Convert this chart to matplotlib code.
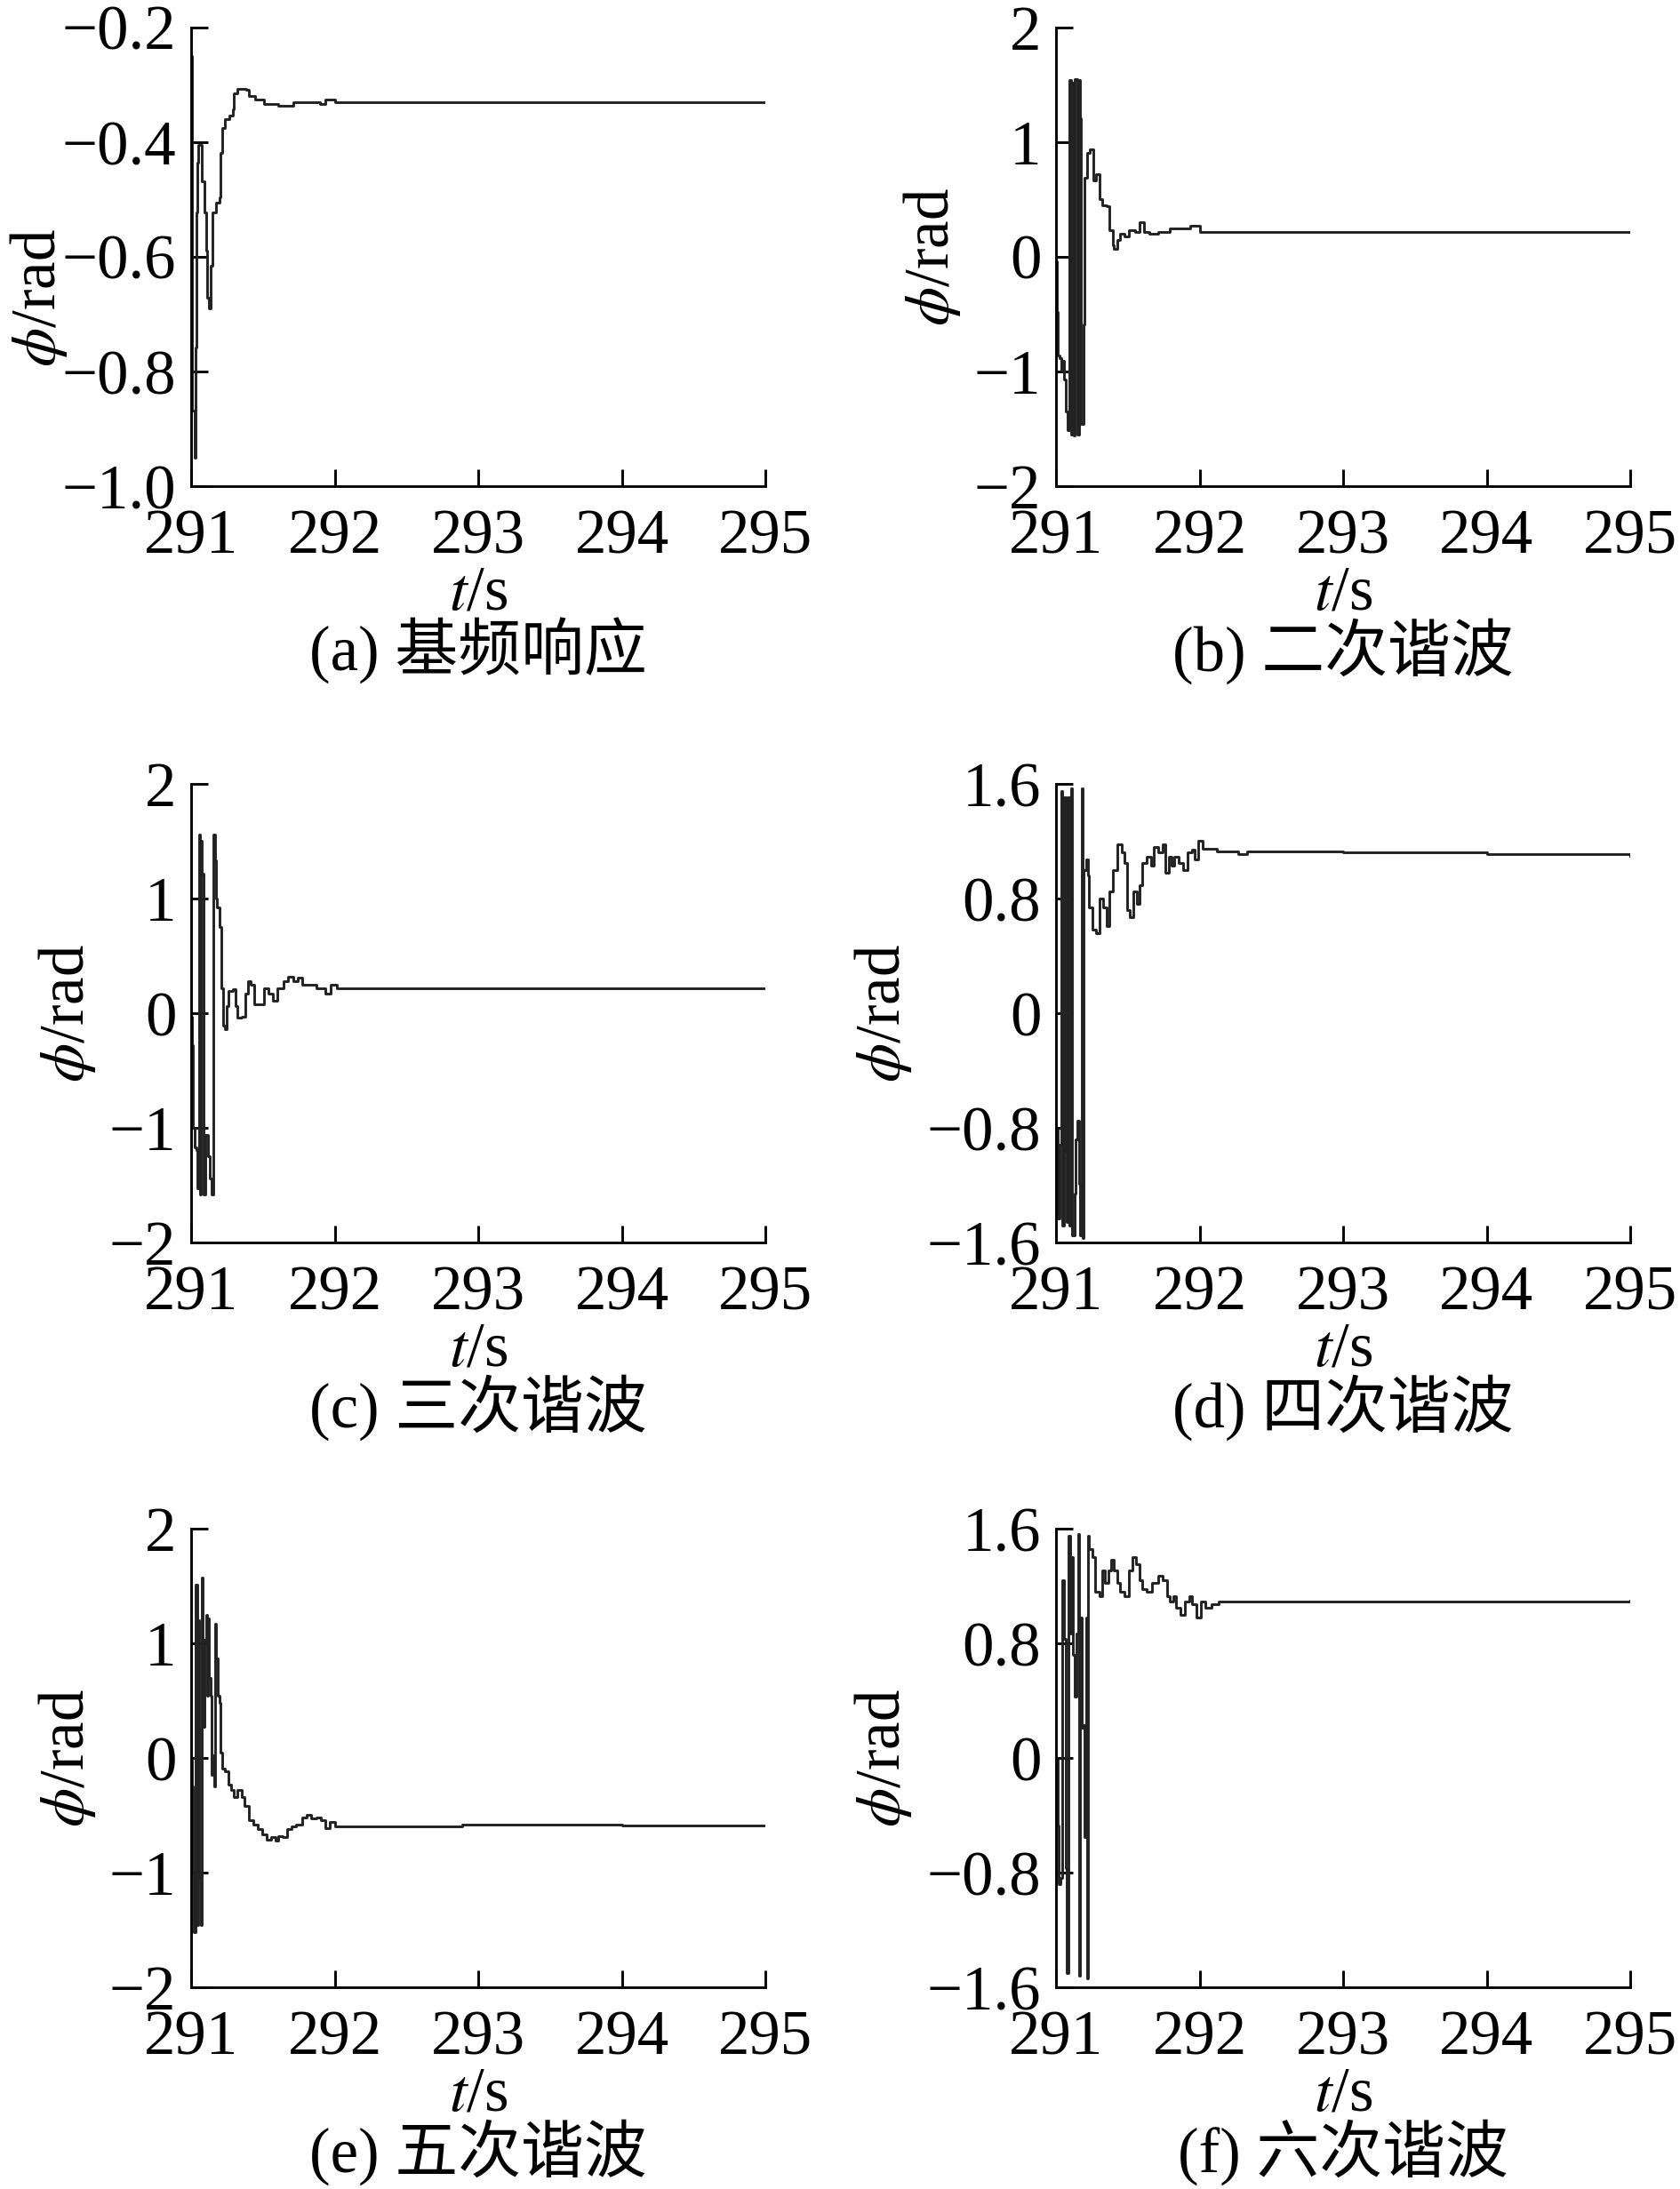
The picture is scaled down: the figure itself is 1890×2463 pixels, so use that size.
import matplotlib
matplotlib.use("Agg")
import matplotlib.pyplot as plt

plt.rcParams['font.family'] = ['Liberation Serif', 'Noto Sans CJK SC']
plt.rcParams['mathtext.fontset'] = 'stix'
plt.rcParams['axes.unicode_minus'] = True

# ---- data (t in s, phi in rad) ----
t_a = [291.000, 291.004, 291.027, 291.031, 291.035, 291.041, 291.047, 291.062, 291.072, 291.093,
       291.103, 291.109, 291.124, 291.134, 291.151, 291.175, 291.196, 291.206, 291.216, 291.237,
       291.268, 291.289, 291.299, 291.320, 291.381, 291.402, 291.443, 291.505, 291.608, 291.711,
       291.814, 291.897, 291.938, 292.0, 295.0]
phi_a = [-0.249, -0.868, -0.950, -0.758, -0.523, -0.435, -0.405, -0.405, -0.468, -0.523,
         -0.589, -0.671, -0.690, -0.616, -0.523, -0.506, -0.496, -0.419, -0.375, -0.359,
         -0.353, -0.342, -0.315, -0.307, -0.309, -0.320, -0.326, -0.334, -0.337, -0.331,
         -0.331, -0.334, -0.326, -0.331, -0.331]

t_b = [291.000, 291.006, 291.014, 291.025, 291.035, 291.045, 291.055, 291.070, 291.082, 291.092,
       291.103, 291.113, 291.123, 291.133, 291.146, 291.158, 291.168, 291.175, 291.189, 291.199,
       291.216, 291.236, 291.261, 291.281, 291.306, 291.322, 291.353, 291.374, 291.394, 291.405,
       291.425, 291.446, 291.476, 291.507, 291.548, 291.579, 291.610, 291.651, 291.713, 291.795,
       291.897, 291.938, 292.000, 295.0]
phi_b = [-0.04, -0.48, -0.86, -0.88, -0.99, -0.91, -1.07, -1.35, -1.51, 1.54,
         -1.55, 1.52, -1.56, 1.55, -1.55, 1.54, 1.21, -1.46, -0.59, 0.69,
         0.91, 0.94, 0.67, 0.72, 0.50, 0.45, 0.44, 0.23, 0.10, 0.07,
         0.15, 0.20, 0.18, 0.23, 0.22, 0.30, 0.22, 0.20, 0.22, 0.245,
         0.245, 0.27, 0.22, 0.22]

t_c = [291.000, 291.006, 291.014, 291.025, 291.035, 291.045, 291.056, 291.062, 291.070, 291.076,
       291.087, 291.097, 291.107, 291.118, 291.128, 291.144, 291.155, 291.165, 291.171, 291.181,
       291.200, 291.210, 291.221, 291.235, 291.245, 291.262, 291.293, 291.307, 291.324, 291.355,
       291.375, 291.396, 291.416, 291.437, 291.478, 291.509, 291.540, 291.571, 291.602, 291.643,
       291.674, 291.715, 291.746, 291.777, 291.829, 291.870, 291.932, 291.973, 292.014, 295.0]
phi_c = [-0.03, -0.28, -1.00, -1.17, -1.19, -1.53, 1.56, -1.58, 1.50, 1.22,
         -1.58, -1.06, -1.06, -1.25, -1.44, -1.58, 1.56, 1.33, 1.00, 0.92,
         0.75, 0.22, -0.11, -0.14, 0.06, 0.19, 0.21, 0.06, -0.04, -0.03,
         0.17, 0.28, 0.25, 0.08, 0.08, 0.22, 0.17, 0.11, 0.22, 0.28,
         0.32, 0.28, 0.31, 0.25, 0.25, 0.22, 0.17, 0.25, 0.22, 0.22]

t_d = [291.004, 291.014, 291.025, 291.035, 291.045, 291.055, 291.066, 291.072, 291.080, 291.090,
       291.099, 291.107, 291.113, 291.127, 291.138, 291.148, 291.158, 291.168, 291.179, 291.187,
       291.195, 291.209, 291.224, 291.232, 291.251, 291.281, 291.302, 291.326, 291.353, 291.374,
       291.394, 291.425, 291.456, 291.476, 291.497, 291.517, 291.538, 291.565, 291.579, 291.600,
       291.630, 291.661, 291.682, 291.713, 291.743, 291.764, 291.784, 291.805, 291.825, 291.856,
       291.887, 291.918, 291.949, 291.969, 291.990, 292.021, 292.123, 292.267, 292.329, 293.0,
       294.0, 295.0]
phi_d = [-0.81, -1.43, -0.92, 1.55, -1.48, 1.51, -0.97, -1.46, 1.51, -1.48,
         -1.15, 1.57, -1.55, -1.26, -0.88, -0.75, -1.19, -1.55, 1.57, -1.57,
         1.00, 1.07, 0.96, 0.74, 0.58, 0.56, 0.80, 0.74, 0.61, 0.85,
         1.00, 1.18, 1.12, 1.05, 0.72, 0.67, 0.85, 0.76, 0.89, 1.05,
         1.09, 1.03, 1.16, 1.12, 1.18, 0.98, 1.09, 1.03, 1.09, 1.05,
         1.00, 1.12, 1.14, 1.07, 1.20, 1.15, 1.13, 1.11, 1.13, 1.12,
         1.11, 1.10]

t_e = [291.000, 291.004, 291.010, 291.021, 291.031, 291.041, 291.047, 291.058, 291.068, 291.074,
       291.082, 291.093, 291.103, 291.109, 291.118, 291.124, 291.134, 291.144, 291.151, 291.159,
       291.165, 291.175, 291.186, 291.196, 291.206, 291.216, 291.237, 291.258, 291.278, 291.299,
       291.320, 291.351, 291.371, 291.402, 291.433, 291.464, 291.495, 291.526, 291.557, 291.588,
       291.608, 291.639, 291.670, 291.701, 291.732, 291.773, 291.804, 291.835, 291.876, 291.907,
       291.938, 291.969, 292.000, 292.268, 292.887, 294.0, 295.0]
phi_e = [-0.01, -0.25, -0.99, -1.52, 1.51, -1.46, 1.20, -1.05, -1.46, 1.57,
         0.27, 1.03, 1.25, 0.54, 1.22, 0.70, 0.54, -0.15, 0.02, -0.25,
         1.17, 0.87, 0.54, 0.48, 0.05, -0.09, -0.12, -0.23, -0.28, -0.34,
         -0.28, -0.34, -0.42, -0.54, -0.58, -0.62, -0.67, -0.71, -0.69, -0.72,
         -0.68, -0.69, -0.62, -0.60, -0.58, -0.52, -0.50, -0.53, -0.52, -0.54,
         -0.61, -0.56, -0.60, -0.60, -0.58, -0.59, -0.59]

t_f = [291.004, 291.010, 291.018, 291.031, 291.045, 291.055, 291.066, 291.076, 291.086, 291.097,
       291.107, 291.117, 291.133, 291.144, 291.154, 291.162, 291.170, 291.179, 291.189, 291.199,
       291.209, 291.218, 291.224, 291.230, 291.251, 291.271, 291.292, 291.306, 291.322, 291.343,
       291.363, 291.384, 291.405, 291.425, 291.446, 291.476, 291.507, 291.532, 291.559, 291.579,
       291.600, 291.630, 291.671, 291.713, 291.743, 291.774, 291.795, 291.815, 291.836, 291.867,
       291.897, 291.928, 291.949, 291.979, 292.010, 292.041, 292.082, 292.133, 293.5, 295.0]
phi_f = [-0.01, -0.47, -0.88, -0.84, 1.24, 0.83, -0.77, -1.50, 1.55, 0.87,
         1.40, 0.72, 0.43, 0.87, 1.56, -1.52, 0.98, 0.21, 0.23, -0.55,
         0.98, -1.54, 1.55, 1.46, 1.40, 1.16, 1.16, 1.13, 1.31, 1.22,
         1.31, 1.38, 1.31, 1.22, 1.16, 1.13, 1.31, 1.40, 1.35, 1.24,
         1.18, 1.16, 1.22, 1.27, 1.24, 1.13, 1.09, 1.13, 1.05, 1.00,
         1.09, 1.13, 1.07, 0.98, 1.09, 1.05, 1.07, 1.09, 1.09, 1.10]

series = [(t_a, phi_a), (t_b, phi_b), (t_c, phi_c), (t_d, phi_d), (t_e, phi_e), (t_f, phi_f)]
captions = ['(a) 基频响应', '(b) 二次谐波', '(c) 三次谐波', '(d) 四次谐波', '(e) 五次谐波', '(f) 六次谐波']
x_ticks = [291, 292, 293, 294, 295]
y_ticks = [[-1.0, -0.8, -0.6, -0.4, -0.2], [-2, -1, 0, 1, 2], [-2, -1, 0, 1, 2],
           [-1.6, -0.8, 0, 0.8, 1.6], [-2, -1, 0, 1, 2], [-1.6, -0.8, 0, 0.8, 1.6]]
y_ticklabels = [['−1.0', '−0.8', '−0.6', '−0.4', '−0.2'], ['−2', '−1', '0', '1', '2'],
                ['−2', '−1', '0', '1', '2'], ['−1.6', '−0.8', '0', '0.8', '1.6'],
                ['−2', '−1', '0', '1', '2'], ['−1.6', '−0.8', '0', '0.8', '1.6']]
ylabel_x = [-0.212, -0.163, -0.163, -0.248, -0.163, -0.248]
ylabel_y = [0.41, 0.5, 0.5, 0.5, 0.5, 0.5]

W, H = 1890, 2463
fig = plt.figure(figsize=(W / 300, H / 300), dpi=300)

lefts = [215, 1188]
tops = [31, 882, 1720]
aw, ah = 646, 516
fs = 17

for i, (t, phi) in enumerate(series):
    col, row = i % 2, i // 2
    ax = fig.add_axes([lefts[col] / W, (H - tops[row] - ah) / H, aw / W, ah / H])
    ax.plot(t, phi, color='#222222', lw=0.7, drawstyle='steps-post')
    ax.set_xlim(291, 295)
    ax.set_ylim(y_ticks[i][0], y_ticks[i][-1])
    ax.set_xticks(x_ticks)
    ax.set_xticklabels([str(v) for v in x_ticks])
    ax.set_yticks(y_ticks[i])
    ax.set_yticklabels(y_ticklabels[i])
    for s in ['top', 'right']:
        ax.spines[s].set_visible(False)
    for s in ['left', 'bottom']:
        ax.spines[s].set_linewidth(0.7)
    ax.tick_params(direction='in', length=4.5, width=0.7, labelsize=fs, pad=4)
    ax.tick_params(axis='x', pad=6)
    ax.set_ylabel(r'$\phi$/rad', fontsize=fs)
    ax.yaxis.set_label_coords(ylabel_x[i], ylabel_y[i])
    ax.set_xlabel(r'$t$/s', fontsize=fs)
    ax.xaxis.set_label_coords(0.5, -0.172)
    ax.text(0.5, -0.36, captions[i], transform=ax.transAxes, ha='center', va='center',
            fontsize=fs)

fig.savefig('out.png', dpi=300, facecolor='white')
